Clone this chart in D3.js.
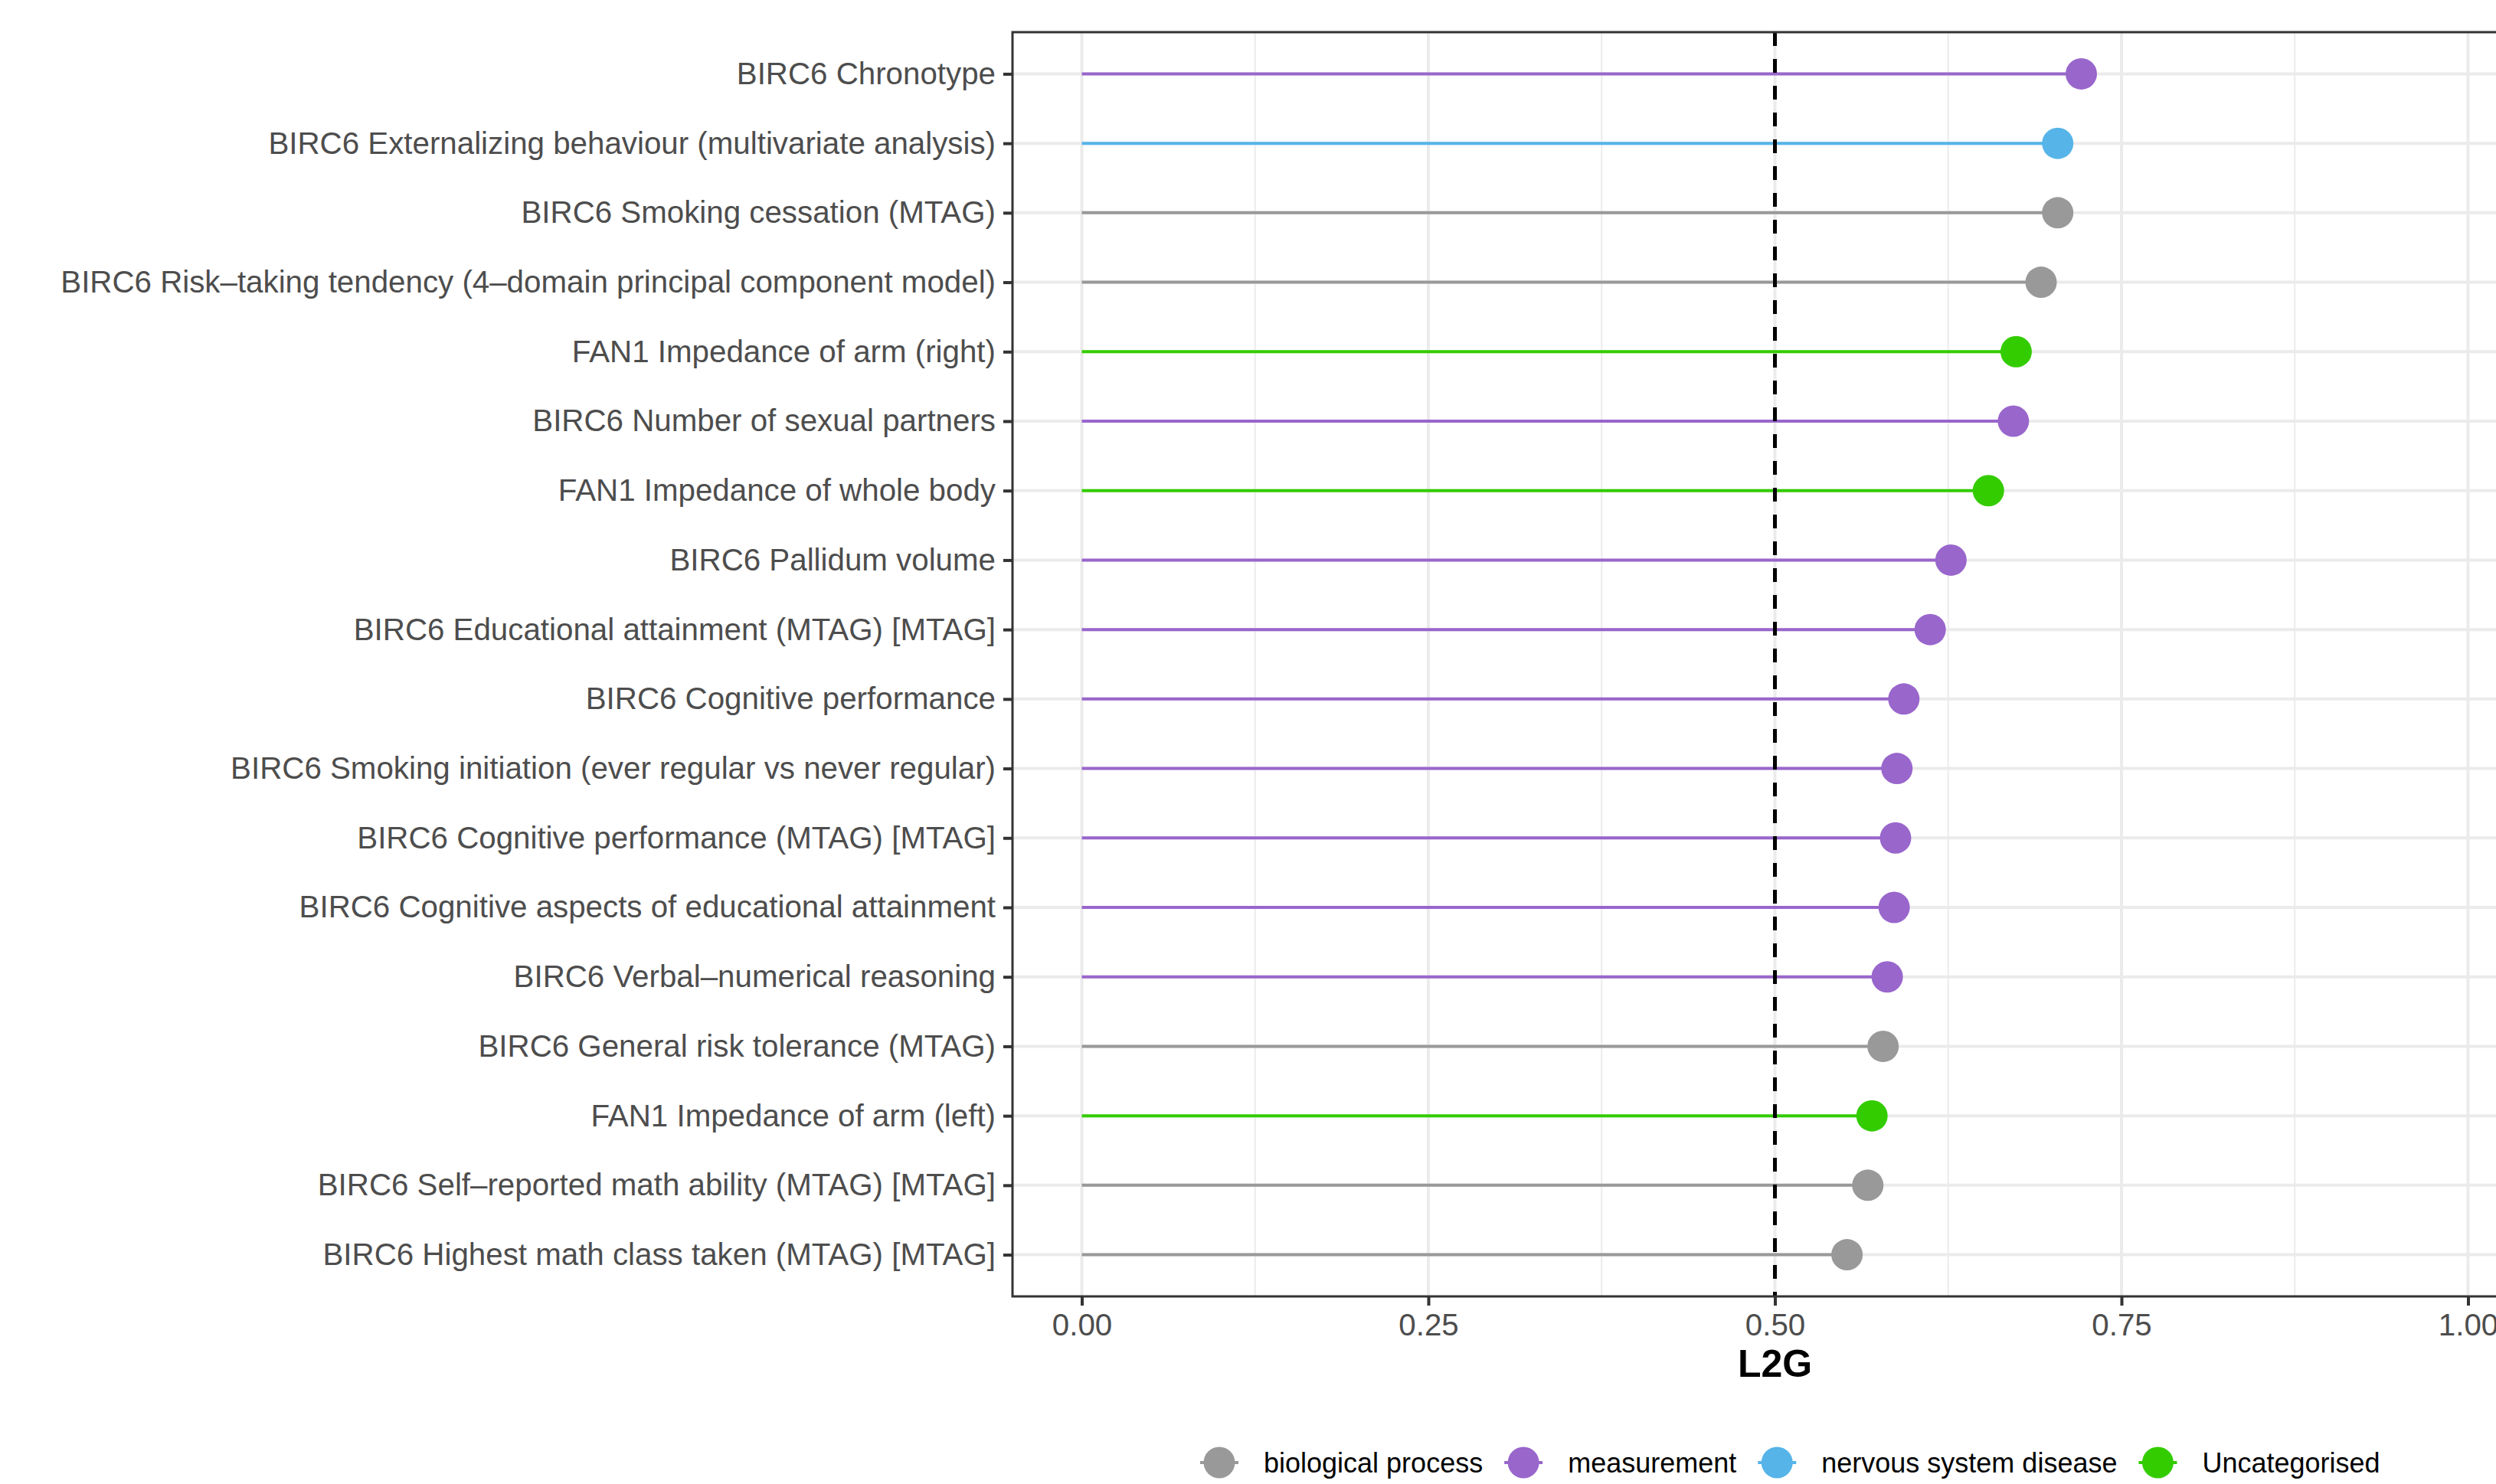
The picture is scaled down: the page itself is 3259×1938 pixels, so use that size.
<!DOCTYPE html>
<html>
<head>
<meta charset="utf-8">
<script src="https://cdn.jsdelivr.net/npm/d3@7"></script>
<style>
  html, body { margin: 0; padding: 0; background: #fff; }
  svg { display: block; }
</style>
</head>
<body>
<svg id="chart" width="3259" height="1938"></svg>
<script>
// ---- data ----
const traits = [
  "BIRC6 Chronotype",
  "BIRC6 Externalizing behaviour (multivariate analysis)",
  "BIRC6 Smoking cessation (MTAG)",
  "BIRC6 Risk\u2013taking tendency (4\u2013domain principal component model)",
  "FAN1 Impedance of arm (right)",
  "BIRC6 Number of sexual partners",
  "FAN1 Impedance of whole body",
  "BIRC6 Pallidum volume",
  "BIRC6 Educational attainment (MTAG) [MTAG]",
  "BIRC6 Cognitive performance",
  "BIRC6 Smoking initiation (ever regular vs never regular)",
  "BIRC6 Cognitive performance (MTAG) [MTAG]",
  "BIRC6 Cognitive aspects of educational attainment",
  "BIRC6 Verbal\u2013numerical reasoning",
  "BIRC6 General risk tolerance (MTAG)",
  "FAN1 Impedance of arm (left)",
  "BIRC6 Self\u2013reported math ability (MTAG) [MTAG]",
  "BIRC6 Highest math class taken (MTAG) [MTAG]"
];
const l2gValues = [0.721, 0.704, 0.704, 0.692, 0.674, 0.672, 0.654, 0.627, 0.612,
                   0.593, 0.588, 0.587, 0.586, 0.581, 0.578, 0.570, 0.567, 0.552];
const traitCategory = [
  "measurement", "nervous system disease", "biological process", "biological process",
  "Uncategorised", "measurement", "Uncategorised", "measurement", "measurement",
  "measurement", "measurement", "measurement", "measurement", "measurement",
  "biological process", "Uncategorised", "biological process", "biological process"
];
const categories = ["biological process", "measurement", "nervous system disease", "Uncategorised"];
const categoryColors = ["#999999", "#9966CC", "#56B4E9", "#33CC00"];
const xTicks = [0, 0.25, 0.5, 0.75, 1.0];
const xMinorTicks = [0.125, 0.375, 0.625, 0.875];
const threshold = 0.5;

// ---- layout ----
const svg = d3.select("#chart");
const panel = { left: 1322, top: 42, bottom: 1693, right: 1322 + 1.1 * 1810 };

const x = d3.scaleLinear().domain([-0.05, 1.05]).range([panel.left, panel.right]);
const y = d3.scalePoint().domain(traits).range([panel.top, panel.bottom]).padding(0.6);
const color = d3.scaleOrdinal().domain(categories).range(categoryColors);

const rows = traits.map((t, i) => ({ trait: t, value: l2gValues[i], cat: traitCategory[i] }));

// panel background grid
const grid = svg.append("g");
grid.selectAll("line.minor").data(xMinorTicks).join("line")
  .attr("x1", d => x(d)).attr("x2", d => x(d))
  .attr("y1", panel.top).attr("y2", panel.bottom)
  .attr("stroke", "#EBEBEB").attr("stroke-width", 2);
grid.selectAll("line.majorx").data(xTicks).join("line")
  .attr("x1", d => x(d)).attr("x2", d => x(d))
  .attr("y1", panel.top).attr("y2", panel.bottom)
  .attr("stroke", "#EBEBEB").attr("stroke-width", 4);
grid.selectAll("line.majory").data(traits).join("line")
  .attr("x1", panel.left).attr("x2", panel.right)
  .attr("y1", d => y(d)).attr("y2", d => y(d))
  .attr("stroke", "#EBEBEB").attr("stroke-width", 4);

// segments
svg.append("g").selectAll("line").data(rows).join("line")
  .attr("x1", x(0)).attr("x2", d => x(d.value))
  .attr("y1", d => y(d.trait)).attr("y2", d => y(d.trait))
  .attr("stroke", d => color(d.cat)).attr("stroke-width", 4);

// threshold dashed line
svg.append("line")
  .attr("x1", x(threshold)).attr("x2", x(threshold))
  .attr("y1", panel.top).attr("y2", panel.bottom)
  .attr("stroke", "#000").attr("stroke-width", 5)
  .attr("stroke-dasharray", "18,17");

// points
svg.append("g").selectAll("circle").data(rows).join("circle")
  .attr("cx", d => x(d.value)).attr("cy", d => y(d.trait))
  .attr("r", 20.5).attr("fill", d => color(d.cat));

// panel border
svg.append("rect")
  .attr("x", panel.left).attr("y", panel.top)
  .attr("width", panel.right - panel.left).attr("height", panel.bottom - panel.top)
  .attr("fill", "none").attr("stroke", "#333333").attr("stroke-width", 3);

// axes
const xAxis = svg.append("g")
  .attr("transform", `translate(0,${panel.bottom})`)
  .call(d3.axisBottom(x).tickValues(xTicks).tickFormat(d3.format(".2f")).tickSize(12).tickPadding(10));
const yAxis = svg.append("g")
  .attr("transform", `translate(${panel.left},0)`)
  .call(d3.axisLeft(y).tickSize(12).tickPadding(10));
[xAxis, yAxis].forEach(a => {
  a.select(".domain").remove();
  a.selectAll(".tick line").attr("stroke", "#333333").attr("stroke-width", 4);
  a.selectAll(".tick text")
    .attr("fill", "#4D4D4D")
    .style("font-family", "'Liberation Sans', Arial, Helvetica, sans-serif")
    .style("font-size", "40.3px");
});

// axis title
svg.append("text")
  .attr("x", x(0.5)).attr("y", 1798)
  .attr("text-anchor", "middle")
  .style("font-family", "'Liberation Sans', Arial, Helvetica, sans-serif")
  .style("font-size", "50px").style("font-weight", "bold")
  .attr("fill", "#000").text("L2G");

// legend
const legend = svg.append("g");
let lx = 1592;
const ly = 1910;
categories.forEach((c, i) => {
  const g = legend.append("g");
  g.append("line").attr("x1", lx - 25).attr("x2", lx + 25).attr("y1", ly).attr("y2", ly)
    .attr("stroke", color(c)).attr("stroke-width", 4);
  g.append("circle").attr("cx", lx).attr("cy", ly).attr("r", 20.5).attr("fill", color(c));
  const t = g.append("text").attr("x", lx + 58).attr("y", ly)
    .attr("dominant-baseline", "central")
    .style("font-family", "'Liberation Sans', Arial, Helvetica, sans-serif")
    .style("font-size", "36px").attr("fill", "#000").text(c);
  lx = lx + 58 + t.node().getComputedTextLength() + 53;
});
</script>
</body>
</html>
